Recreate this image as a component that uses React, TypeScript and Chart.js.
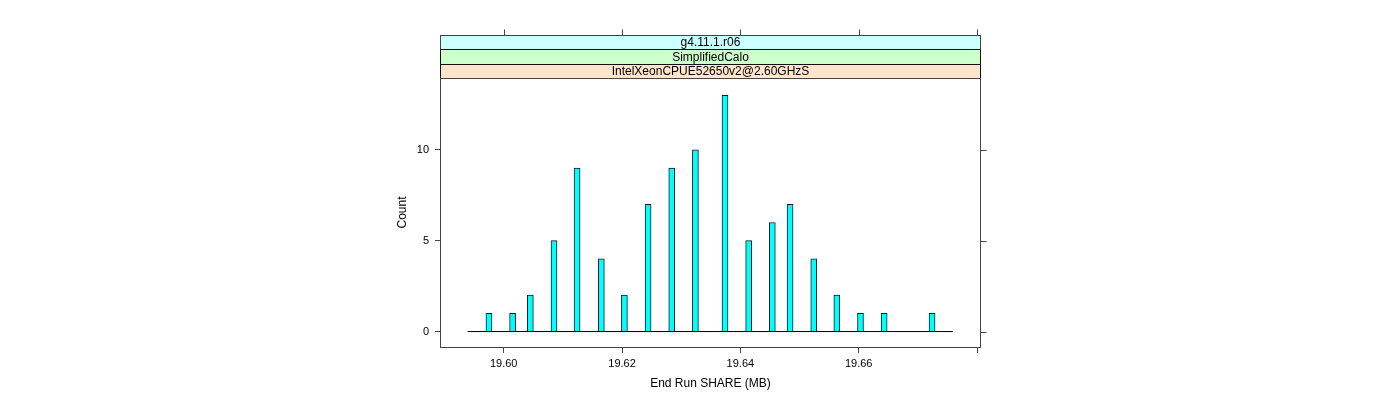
import React, { useEffect, useRef } from "react";
import { Chart, registerables } from "chart.js";

Chart.register(...registerables);

// ---- data ----
const binCenters = [
  19.5975, 19.6015, 19.6045, 19.6085, 19.6124, 19.6165, 19.6204, 19.6244, 19.6284, 19.6324,
  19.6374, 19.6414, 19.6454, 19.6484, 19.6524, 19.6563, 19.6603, 19.6643, 19.6724,
];
const counts = [1, 1, 2, 5, 9, 4, 2, 7, 9, 10, 13, 5, 6, 7, 4, 2, 1, 1, 1];
const histRange = [19.5939, 19.6759];
const xTicks = [19.6, 19.62, 19.64, 19.66, 19.68];
const xTickLabels = ["19.60", "19.62", "19.64", "19.66", ""];
const yTicks = [0, 5, 10];
const yTickLabels = ["0", "5", "10"];
const xLimits = [19.5894, 19.6805];
const yLimits = [-0.85, 13.95];
const stripLabels = ["g4.11.1.r06", "SimplifiedCalo", "IntelXeonCPUE52650v2@2.60GHzS"];
const stripColors = ["#CCFFFF", "#CCFFCC", "#FFE5CC"];
const xTitle = "End Run SHARE (MB)";
const yTitle = "Count";

const FONT = "'Liberation Sans', Arial, sans-serif";
const FRAME = "#444444";
const STRIP_EDGES = [-43, -29, -14, 0];

const panelPlugin = {
  id: "latticePanel",
  afterDraw(chart: any) {
    const { ctx, chartArea } = chart;
    const xs = chart.scales.x;
    const ys = chart.scales.y;
    const L = Math.floor(chartArea.left) - 0.5;
    const R = Math.floor(chartArea.right) + 0.5;
    const T = Math.floor(chartArea.top) + 0.5;
    const B = Math.floor(chartArea.bottom) + 0.5;
    ctx.save();
    // strips
    for (let i = 0; i < stripLabels.length; i++) {
      const y0 = T + STRIP_EDGES[i];
      const y1 = T + STRIP_EDGES[i + 1];
      ctx.fillStyle = stripColors[i];
      ctx.fillRect(L, y0, R - L, y1 - y0);
      ctx.strokeStyle = i === 0 ? FRAME : "#111111";
      ctx.lineWidth = 1;
      ctx.strokeRect(L, y0, R - L, y1 - y0);
      ctx.fillStyle = "#000000";
      ctx.font = `12px ${FONT}`;
      ctx.textAlign = "center";
      ctx.textBaseline = "middle";
      ctx.fillText(stripLabels[i], (L + R) / 2, (y0 + y1) / 2 + 0.5);
    }
    // panel frame
    ctx.strokeStyle = FRAME;
    ctx.lineWidth = 1;
    ctx.strokeRect(L, T, R - L, B - T);
    // top ticks (above strips)
    const st = T + STRIP_EDGES[0];
    ctx.beginPath();
    for (const v of xTicks) {
      const px = Math.round(xs.getPixelForValue(v)) + 0.5;
      ctx.moveTo(px, st);
      ctx.lineTo(px, st - 6);
    }
    // right ticks
    for (const v of yTicks) {
      const py = Math.round(ys.getPixelForValue(v)) + 0.5;
      ctx.moveTo(R, py);
      ctx.lineTo(R + 6, py);
    }
    ctx.stroke();
    ctx.restore();
  },
};

export default function App() {
  const ref = useRef<HTMLCanvasElement | null>(null);

  useEffect(() => {
    document.body.style.margin = "0";
    const canvas = ref.current;
    if (!canvas) return;
    const chart = new Chart(canvas, {
      data: {
        datasets: [
          {
            type: "line" as const,
            data: histRange.map((x) => ({ x, y: 0 })),
            borderColor: "#000000",
            borderWidth: 1,
            pointRadius: 0,
            fill: false,
            order: 2,
          },
          {
            type: "bar" as const,
            data: binCenters.map((x, i) => ({ x, y: counts[i] })),
            backgroundColor: "#00FFFF",
            borderColor: "#1a1a1a",
            borderWidth: 1,
            barThickness: 6,
            order: 1,
          },
        ],
      },
      options: {
        responsive: false,
        animation: false,
        devicePixelRatio: 1,
        layout: { padding: { left: 395, right: 420, top: 78, bottom: 0 } },
        plugins: { legend: { display: false }, tooltip: { enabled: false } },
        scales: {
          x: {
            type: "linear",
            position: "bottom",
            min: xLimits[0],
            max: xLimits[1],
            offset: false,
            afterBuildTicks: (s: any) => {
              s.ticks = xTicks.map((v) => ({ value: v }));
            },
            afterFit: (s: any) => {
              s.height = 53;
            },
            ticks: {
              autoSkip: false,
              maxRotation: 0,
              padding: 4,
              color: "#000000",
              font: { family: FONT, size: 11 },
              callback: (_v: any, i: number) => xTickLabels[i],
            },
            grid: {
              display: true,
              offset: false,
              drawOnChartArea: false,
              drawTicks: true,
              tickLength: 6,
              color: FRAME,
            },
            border: { display: false },
            title: {
              display: true,
              text: xTitle,
              color: "#000000",
              font: { family: FONT, size: 12 },
              padding: { top: 0, bottom: 9 },
            },
          },
          y: {
            type: "linear",
            position: "left",
            min: yLimits[0],
            max: yLimits[1],
            afterBuildTicks: (s: any) => {
              s.ticks = yTicks.map((v) => ({ value: v }));
            },
            afterFit: (s: any) => {
              s.width = 46;
            },
            ticks: {
              autoSkip: false,
              padding: 6,
              color: "#000000",
              font: { family: FONT, size: 11 },
              callback: (_v: any, i: number) => yTickLabels[i],
            },
            grid: {
              display: true,
              offset: false,
              drawOnChartArea: false,
              drawTicks: true,
              tickLength: 6,
              color: FRAME,
            },
            border: { display: false },
            title: {
              display: true,
              text: yTitle,
              color: "#000000",
              font: { family: FONT, size: 12 },
              padding: { top: 0, bottom: 0 },
            },
          },
        },
      },
      plugins: [panelPlugin],
    } as any);
    return () => chart.destroy();
  }, []);

  return (
    <div style={{ width: 1400, height: 400, background: "#ffffff" }}>
      <canvas ref={ref} width={1400} height={400} style={{ display: "block" }} />
    </div>
  );
}
